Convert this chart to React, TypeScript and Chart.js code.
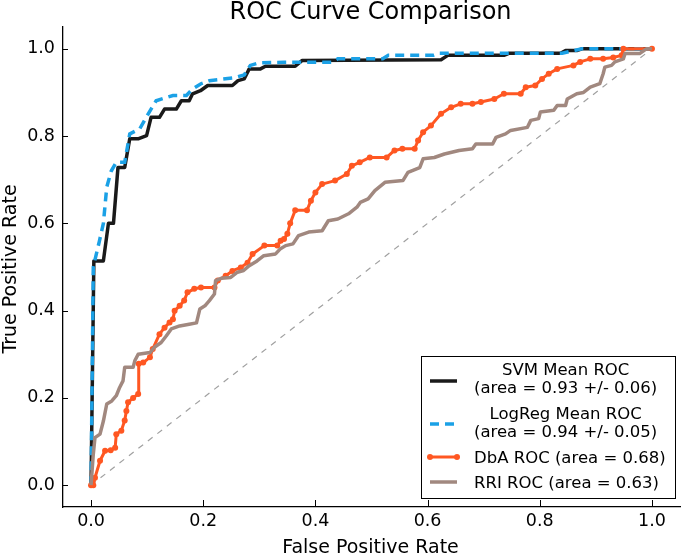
import React, { useEffect, useRef } from 'react';
import { Chart, registerables } from 'chart.js';

Chart.register(...registerables);

const tickValues = [0, 0.2, 0.4, 0.6, 0.8, 1.0];

const svmX = [0, 0.005, 0.022, 0.031, 0.04, 0.048, 0.06, 0.069, 0.085, 0.099, 0.107, 0.122, 0.131, 0.152, 0.161, 0.175, 0.181, 0.195, 0.208, 0.252, 0.262, 0.273, 0.282, 0.302, 0.311, 0.364, 0.376, 0.624, 0.636, 0.736, 0.746, 0.837, 0.846, 0.866, 0.875, 1.0];
const svmY = [0, 0.514, 0.514, 0.6, 0.6, 0.728, 0.728, 0.794, 0.794, 0.801, 0.843, 0.843, 0.862, 0.862, 0.881, 0.881, 0.897, 0.904, 0.916, 0.916, 0.927, 0.931, 0.954, 0.954, 0.96, 0.96, 0.973, 0.975, 0.985, 0.985, 0.99, 0.99, 0.996, 0.996, 1.0, 1.0];

const logX = [0, 0.004, 0.015, 0.022, 0.028, 0.036, 0.045, 0.06, 0.069, 0.087, 0.102, 0.116, 0.146, 0.17, 0.181, 0.196, 0.211, 0.252, 0.273, 0.284, 0.3, 0.344, 0.43, 0.44, 0.52, 0.53, 0.61, 0.62, 0.84, 0.875, 1.0];
const logY = [0, 0.5, 0.56, 0.6, 0.683, 0.72, 0.74, 0.74, 0.805, 0.817, 0.851, 0.881, 0.893, 0.893, 0.908, 0.92, 0.927, 0.933, 0.94, 0.962, 0.968, 0.969, 0.969, 0.977, 0.977, 0.985, 0.985, 0.99, 0.99, 1.0, 1.0];

const dbaX = [0, 0.004, 0.007, 0.016, 0.025, 0.035, 0.043, 0.045, 0.054, 0.06, 0.063, 0.066, 0.075, 0.084, 0.085, 0.093, 0.105, 0.11, 0.122, 0.131, 0.14, 0.146, 0.149, 0.158, 0.166, 0.172, 0.184, 0.196, 0.22, 0.226, 0.24, 0.252, 0.267, 0.279, 0.288, 0.309, 0.332, 0.338, 0.344, 0.35, 0.355, 0.364, 0.385, 0.392, 0.4, 0.412, 0.435, 0.456, 0.465, 0.479, 0.497, 0.527, 0.541, 0.555, 0.577, 0.583, 0.592, 0.606, 0.624, 0.642, 0.659, 0.68, 0.695, 0.719, 0.736, 0.766, 0.775, 0.792, 0.804, 0.816, 0.831, 0.86, 0.872, 0.89, 0.913, 0.931, 0.946, 0.949, 1.0];
const dbaY = [0, 0, 0.017, 0.056, 0.079, 0.08, 0.086, 0.117, 0.125, 0.148, 0.17, 0.19, 0.2, 0.209, 0.278, 0.281, 0.293, 0.312, 0.346, 0.361, 0.373, 0.38, 0.4, 0.411, 0.423, 0.442, 0.45, 0.453, 0.453, 0.469, 0.48, 0.491, 0.499, 0.51, 0.53, 0.549, 0.549, 0.56, 0.564, 0.576, 0.6, 0.63, 0.63, 0.652, 0.671, 0.69, 0.698, 0.713, 0.732, 0.74, 0.751, 0.751, 0.767, 0.771, 0.771, 0.79, 0.809, 0.824, 0.851, 0.866, 0.874, 0.874, 0.878, 0.885, 0.897, 0.897, 0.912, 0.916, 0.931, 0.943, 0.954, 0.962, 0.97, 0.977, 0.977, 0.98, 0.985, 1.0, 1.0];

const rriX = [0, 0.004, 0.007, 0.016, 0.022, 0.028, 0.037, 0.045, 0.051, 0.057, 0.06, 0.075, 0.078, 0.084, 0.105, 0.113, 0.125, 0.134, 0.143, 0.158, 0.175, 0.188, 0.194, 0.203, 0.211, 0.22, 0.222, 0.232, 0.249, 0.261, 0.272, 0.282, 0.296, 0.308, 0.329, 0.337, 0.347, 0.36, 0.37, 0.388, 0.412, 0.423, 0.44, 0.459, 0.474, 0.48, 0.494, 0.506, 0.524, 0.556, 0.565, 0.586, 0.592, 0.612, 0.63, 0.656, 0.68, 0.686, 0.716, 0.722, 0.739, 0.748, 0.778, 0.784, 0.798, 0.801, 0.825, 0.831, 0.846, 0.849, 0.866, 0.878, 0.89, 0.907, 0.913, 0.916, 0.928, 0.934, 0.949, 0.952, 0.978, 0.99, 1.0];
const rriY = [0, 0.071, 0.109, 0.117, 0.147, 0.186, 0.193, 0.205, 0.224, 0.239, 0.27, 0.27, 0.285, 0.3, 0.304, 0.316, 0.327, 0.342, 0.358, 0.365, 0.369, 0.372, 0.404, 0.411, 0.423, 0.438, 0.469, 0.474, 0.476, 0.488, 0.492, 0.503, 0.514, 0.526, 0.53, 0.541, 0.549, 0.553, 0.572, 0.58, 0.583, 0.606, 0.61, 0.622, 0.637, 0.648, 0.656, 0.675, 0.694, 0.698, 0.717, 0.728, 0.748, 0.751, 0.759, 0.767, 0.771, 0.782, 0.782, 0.797, 0.805, 0.813, 0.82, 0.836, 0.84, 0.855, 0.859, 0.87, 0.87, 0.885, 0.897, 0.9, 0.912, 0.92, 0.943, 0.958, 0.962, 0.97, 0.977, 0.989, 0.989, 1.0, 1.0];

const chanceX = [0, 1];
const chanceY = [0, 1];

const legendLabels = [
  ['SVM Mean ROC', '(area = 0.93 +/- 0.06)'],
  ['LogReg Mean ROC', '(area = 0.94 +/- 0.05)'],
  ['DbA ROC (area = 0.68)'],
  ['RRI ROC (area = 0.63)'],
];

const titleText = 'ROC Curve Comparison';
const xLabel = 'False Positive Rate';
const yLabel = 'True Positive Rate';

const FONT = '"DejaVu Sans", "Bitstream Vera Sans", sans-serif';
const BLACK = '#1a1a1a';
const BLUE = '#1ba1e6';
const ORANGE = '#ff5722';
const BROWN = '#a1887f';

const zip = (xs: number[], ys: number[]) => xs.map((x, i) => ({ x, y: ys[i] }));

const decorPlugin = {
  id: 'decor',
  afterDraw(chart: any) {
    const { ctx, chartArea } = chart;
    const xs = chart.scales.x;
    const ys = chart.scales.y;
    ctx.save();
    // inward ticks
    ctx.strokeStyle = '#000';
    ctx.lineWidth = 1;
    tickValues.forEach((v) => {
      const px = Math.round(xs.getPixelForValue(v)) + 0.5;
      ctx.beginPath();
      ctx.moveTo(px, chartArea.bottom);
      ctx.lineTo(px, chartArea.bottom - 7);
      ctx.stroke();
      const py = Math.round(ys.getPixelForValue(v)) + 0.5;
      ctx.beginPath();
      ctx.moveTo(chartArea.left, py);
      ctx.lineTo(chartArea.left + 5, py);
      ctx.stroke();
    });
    const cx = (chartArea.left + chartArea.right) / 2 - 1;
    const cy = (chartArea.top + chartArea.bottom) / 2;
    ctx.fillStyle = '#000';
    // title
    ctx.font = `24px ${FONT}`;
    ctx.textAlign = 'center';
    ctx.textBaseline = 'alphabetic';
    ctx.fillText(titleText, cx, 19);
    // x label
    ctx.font = `19px ${FONT}`;
    ctx.fillText(xLabel, cx, 553);
    // y label
    ctx.save();
    ctx.translate(15.5, cy + 2);
    ctx.rotate(-Math.PI / 2);
    ctx.fillText(yLabel, 0, 0);
    ctx.restore();

    // legend
    const bx = 421, by = 356, bw = 254, bh = 142;
    ctx.fillStyle = '#fff';
    ctx.fillRect(bx, by, bw, bh);
    ctx.strokeStyle = '#000';
    ctx.lineWidth = 1;
    ctx.strokeRect(bx + 0.5, by + 0.5, bw, bh);
    const handleYs = [381, 424, 457, 482];
    const baselines = [[375, 393], [419, 437], [463], [487.5]];
    const styles = [
      { color: BLACK, width: 3.5, dash: [] as number[], marker: false },
      { color: BLUE, width: 3.5, dash: [9, 6], marker: false },
      { color: ORANGE, width: 3, dash: [] as number[], marker: true },
      { color: BROWN, width: 3.5, dash: [] as number[], marker: false },
    ];
    ctx.font = `16.5px ${FONT}`;
    legendLabels.forEach((lines, i) => {
      const st = styles[i];
      const hy = handleYs[i];
      ctx.save();
      ctx.strokeStyle = st.color;
      ctx.lineWidth = st.width;
      ctx.setLineDash(st.dash);
      ctx.lineCap = 'butt';
      ctx.beginPath();
      ctx.moveTo(430, hy);
      ctx.lineTo(457, hy);
      ctx.stroke();
      if (st.marker) {
        ctx.fillStyle = st.color;
        [430, 457].forEach((mx) => {
          ctx.beginPath();
          ctx.arc(mx, hy, 3, 0, Math.PI * 2);
          ctx.fill();
        });
      }
      ctx.restore();
      ctx.fillStyle = '#000';
      const left = 474;
      const maxW = Math.max(...lines.map((l) => ctx.measureText(l).width));
      ctx.textAlign = 'center';
      lines.forEach((l, j) => {
        ctx.fillText(l, left + maxW / 2, baselines[i][j]);
      });
    });
    ctx.restore();
  },
};

export default function App() {
  const ref = useRef<HTMLCanvasElement | null>(null);
  useEffect(() => {
    if (!ref.current) return;
    const chart = new Chart(ref.current, {
      type: 'scatter',
      data: {
        datasets: [
          {
            label: 'chance',
            data: zip(chanceX, chanceY),
            showLine: true,
            borderColor: '#a0a0a0',
            borderWidth: 1.2,
            borderDash: [6, 6],
            pointRadius: 0,
            order: 5,
          },
          {
            label: legendLabels[0].join(' '),
            data: zip(svmX, svmY),
            showLine: true,
            borderColor: BLACK,
            borderWidth: 3.5,
            borderJoinStyle: 'round',
            pointRadius: 0,
            order: 4,
          },
          {
            label: legendLabels[1].join(' '),
            data: zip(logX, logY),
            showLine: true,
            borderColor: BLUE,
            borderWidth: 3.5,
            borderDash: [9, 6],
            pointRadius: 0,
            order: 3,
          },
          {
            label: legendLabels[2][0],
            data: zip(dbaX, dbaY),
            showLine: true,
            borderColor: ORANGE,
            backgroundColor: ORANGE,
            borderWidth: 3,
            borderJoinStyle: 'round',
            pointRadius: 3,
            pointBorderWidth: 0,
            pointBackgroundColor: ORANGE,
            order: 2,
          },
          {
            label: legendLabels[3][0],
            data: zip(rriX, rriY),
            showLine: true,
            borderColor: BROWN,
            borderWidth: 3.5,
            borderJoinStyle: 'round',
            pointRadius: 0,
            order: 1,
          },
        ],
      },
      options: {
        animation: false,
        responsive: false,
        devicePixelRatio: 1,
        layout: { padding: { top: 27, left: 0, right: 0, bottom: 0 } },
        plugins: {
          legend: { display: false },
          title: { display: false },
          tooltip: { enabled: false },
        },
        scales: {
          x: {
            type: 'linear',
            min: -0.05,
            max: 1.05,
            grid: { display: false, drawTicks: false },
            border: { display: true, color: '#000', width: 1.3 },
            afterBuildTicks: (s: any) => {
              s.ticks = tickValues.map((v) => ({ value: v }));
            },
            afterFit: (s: any) => {
              s.height = 47;
            },
            ticks: {
              padding: 3.5,
              color: '#000',
              font: { family: FONT, size: 17.5 },
              maxRotation: 0,
              callback: (v: any) => Number(v).toFixed(1),
            },
          },
          y: {
            type: 'linear',
            min: -0.05,
            max: 1.05,
            grid: { display: false, drawTicks: false },
            border: { display: true, color: '#000', width: 1.3 },
            afterBuildTicks: (s: any) => {
              s.ticks = tickValues.map((v) => ({ value: v }));
            },
            afterFit: (s: any) => {
              s.width = 63;
            },
            ticks: {
              padding: 8,
              color: '#000',
              font: { family: FONT, size: 17.5 },
              callback: (v: any) => Number(v).toFixed(1),
            },
          },
        },
      },
      plugins: [decorPlugin],
    });
    return () => chart.destroy();
  }, []);
  return (
    <canvas
      ref={ref}
      width={684}
      height={554}
      style={{ position: 'absolute', left: 0, top: 0, width: 684, height: 554, display: 'block' }}
    />
  );
}
